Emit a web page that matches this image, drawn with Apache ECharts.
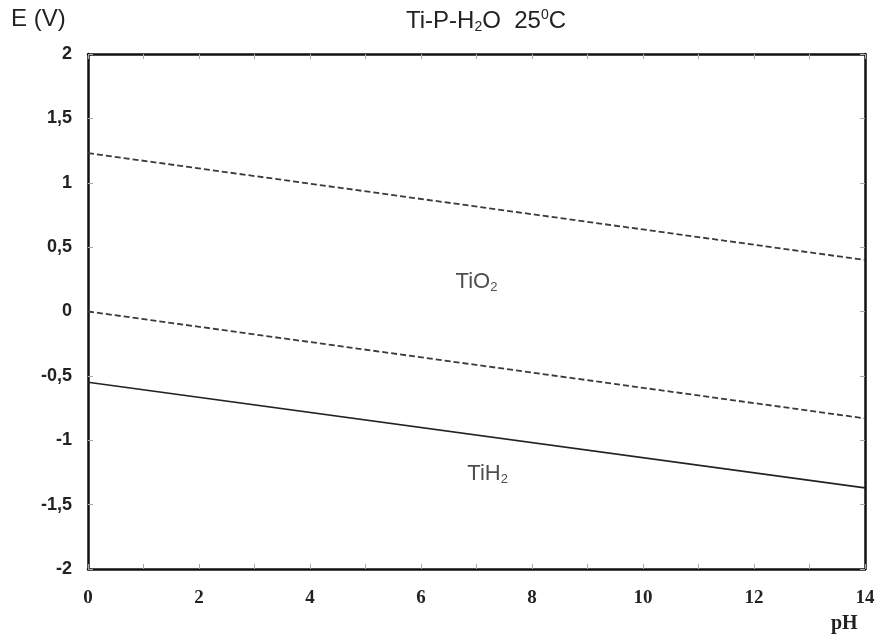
<!DOCTYPE html>
<html><head><meta charset="utf-8">
<script src="https://cdn.jsdelivr.net/npm/echarts@6/dist/echarts.min.js"></script>
<style>html,body{margin:0;padding:0;background:#fff}#c{width:882px;height:639px}</style>
</head><body><div id="c"></div>
<script>
const pH = [0, 14];
const upperDashed = [1.23, 0.40];
const lowerDashed = [0.0, -0.83];
const solidLine = [-0.55, -1.37];
const regionLabels = [
  {name: 'TiO', sub: '2', x: 7.0, y: 0.23},
  {name: 'TiH', sub: '2', x: 7.2, y: -1.26}
];
const xTicks = [0, 2, 4, 6, 8, 10, 12, 14];
const yTicks = [-2, -1.5, -1, -0.5, 0, 0.5, 1, 1.5, 2];

const chart = echarts.init(document.getElementById('c'), null, {renderer: 'canvas'});
const pairs = (ys) => pH.map((x, i) => [x, ys[i]]);
const fmtY = v => String(v).replace('.', ',');
const tickStyle = {show: true, inside: true, length: 5, lineStyle: {color: '#aaa', width: 1}};
const frameLine = {show: true, onZero: false, lineStyle: {color: '#111', width: 2.5}};
chart.setOption({
  animation: false,
  backgroundColor: '#fff',
  title: {
    text: 'Ti-P-H{sub|2}O  25{sup|0}C',
    left: 481, top: 3, textAlign: 'center',
    textStyle: {
      fontFamily: 'Liberation Sans, Arial', fontSize: 24, fontWeight: 'normal', color: '#222',
      rich: {
        sub: {fontSize: 14, verticalAlign: 'bottom', padding: [12, 0, 0, 0], fontFamily: 'Liberation Sans', color: '#222'},
        sup: {fontSize: 14, verticalAlign: 'top', padding: [0, 0, 10, 0], fontFamily: 'Liberation Sans', color: '#222'}
      }
    }
  },
  graphic: [
    {type: 'text', left: 11, top: 7, style: {text: 'E (V)', font: '24px "Liberation Sans", Arial', fill: '#222'}},
    {type: 'text', left: 831, top: 614, style: {text: 'pH', font: 'bold 20px "Liberation Serif", "Times New Roman"', fill: '#222'}}
  ],
  grid: {left: 88, right: 17, top: 54, bottom: 70, show: false},
  xAxis: [
    {type: 'value', min: 0, max: 14, interval: 1, position: 'bottom',
     axisLine: frameLine, axisTick: tickStyle, splitLine: {show: false},
     axisLabel: {margin: 20, formatter: v => (xTicks.indexOf(v) >= 0 ? String(v) : ''),
       fontFamily: 'Liberation Serif, Times New Roman', fontWeight: 'bold', fontSize: 19, color: '#222', showMaxLabel: true, showMinLabel: true}},
    {type: 'value', min: 0, max: 14, interval: 1, position: 'top',
     axisLine: frameLine, axisTick: tickStyle, splitLine: {show: false}, axisLabel: {show: false}}
  ],
  yAxis: [
    {type: 'value', min: -2, max: 2, interval: 0.5, position: 'left',
     axisLine: frameLine, axisTick: tickStyle, splitLine: {show: false},
     axisLabel: {margin: 16, formatter: v => (yTicks.indexOf(v) >= 0 ? fmtY(v) : ''),
       fontFamily: 'Liberation Sans, Arial', fontWeight: 'bold', fontSize: 18, color: '#222'}},
    {type: 'value', min: -2, max: 2, interval: 0.5, position: 'right',
     axisLine: frameLine, axisTick: tickStyle, splitLine: {show: false}, axisLabel: {show: false}}
  ],
  series: [
    {type: 'line', data: pairs(upperDashed), symbol: 'none', lineStyle: {color: '#3a3a3a', width: 1.8, type: [6, 3]}},
    {type: 'line', data: pairs(lowerDashed), symbol: 'none', lineStyle: {color: '#3a3a3a', width: 1.8, type: [6, 3]}},
    {type: 'line', data: pairs(solidLine), symbol: 'none', lineStyle: {color: '#222', width: 1.6}},
    {type: 'scatter', symbolSize: 0, silent: true,
     data: regionLabels.map(r => ({value: [r.x, r.y], label: {formatter: r.name + '{s|' + r.sub + '}'}})),
     label: {show: true, position: 'inside', color: '#222', fontSize: 22, fontFamily: 'Liberation Sans, Arial',
       rich: {s: {fontSize: 13, verticalAlign: 'bottom', padding: [12, 0, 0, 0], color: '#222', fontFamily: 'Liberation Sans'}}}}
  ]
});
</script></body></html>
